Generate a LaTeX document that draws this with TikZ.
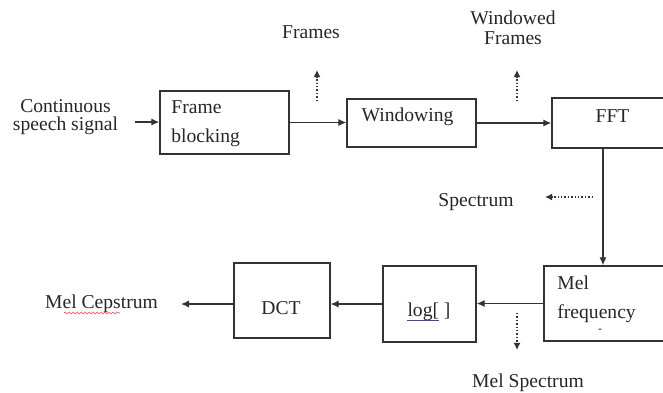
\documentclass[tikz,border=0pt]{standalone}
\usepackage{fontspec}
\setmainfont{Liberation Serif}
\usetikzlibrary{arrows.meta,decorations.pathmorphing}

\begin{document}
\begin{tikzpicture}[x=0.5pt,y=-0.5pt,
	font=\fontsize{9.8}{9}\selectfont, text=black!85,
	box/.style={draw=black!80, line width=0.7pt, inner sep=0pt},
	lbl/.style={inner sep=0pt, align=center},
	arr/.style={draw=black!80, -{Latex[length=4pt,width=3.6pt]}, line width=0.65pt},
	dots/.style={draw=black!80, -{Latex[length=3.6pt,width=3.6pt]}, densely dotted, line width=0.7pt}]
	\useasboundingbox (0,0) rectangle (663,392);

	% processing blocks
	\node[box, minimum width=64.5pt, minimum height=31.5pt] (fb) at (224.5,122.5) {};
	\node[box, minimum width=64.5pt, minimum height=24pt] (win) at (411.5,123) {};
	\node[box, minimum width=58pt, minimum height=25pt] (fft) at (610,123) {};
	\node[box, minimum width=62pt, minimum height=37.5pt] (mel) at (606,303.5) {};
	\node[box, minimum width=46.5pt, minimum height=38pt] (log) at (429.5,304) {};
	\node[box, minimum width=48pt, minimum height=37.5pt] (dct) at (282,300.5) {};

	% block texts
	\node[lbl, anchor=west, align=left, font=\fontsize{9.8}{14.5}\selectfont] (fbtxt) at (171,124) {Frame\\blocking};
	\node[lbl] (wintxt) at (407.5,117) {Windowing};
	\node[lbl] (ffttxt) at (612.5,116) {FFT};
	\node[lbl, anchor=west, align=left, font=\fontsize{9.8}{14.5}\selectfont] (meltxt) at (557,299) {Mel\\frequency};
	\node[lbl, font=\fontsize{6}{6}\selectfont] (meldot) at (600,331) {-};
	\node[lbl] (logtxt) at (429,312) {log[ ]};
	\node[lbl] (dcttxt) at (281,308) {DCT};

	% outer labels
	\node[lbl] (in) at (65.5,117) {Continuous\\speech signal};
	\node[lbl] (out) at (101.5,304) {Mel Cepstrum};
	\node[lbl] (frames) at (311,32) {Frames};
	\node[lbl, font=\fontsize{9.8}{10}\selectfont] (wframes) at (513,28) {Windowed\\Frames};
	\node[lbl] (spec) at (476,202) {Spectrum};
	\node[lbl] (melspec) at (528,383) {Mel Spectrum};

	% free ends
	\coordinate (instart) at (135,122);
	\coordinate (fftout) at (603,148);
	\coordinate (outend) at (181,304);
	\coordinate (fr0) at (317,101);
	\coordinate (fr1) at (317,70);
	\coordinate (wf0) at (517,101);
	\coordinate (wf1) at (517,70);
	\coordinate (sp0) at (593,197);
	\coordinate (sp1) at (545,197);
	\coordinate (ms0) at (517,313);
	\coordinate (ms1) at (517,350);

	% signal path
	\draw[arr] (instart) -- (fb.west |- instart);
	\draw[arr] (fb.east) -- (win.west |- fb.east);
	\draw[arr] (win.east) -- (fft.west);
	\draw[arr] (fftout) -- (fftout |- mel.north);
	\draw[arr] (mel.west) -- (log.east |- mel.west);
	\draw[arr] (log.west) -- (dct.east |- log.west);
	\draw[arr] (dct.west |- outend) -- (outend);

	% intermediate outputs
	\draw[dots] (fr0) -- (fr1);
	\draw[dots] (wf0) -- (wf1);
	\draw[dots] (sp0) -- (sp1);
	\draw[dots] (ms0) -- (ms1);

	% editor underlines
	\draw[red!75, line width=0.3pt, decorate, decoration={snake, amplitude=0.5pt, segment length=2pt}] (64,313) -- (120,313);
	\draw[blue!50!gray, line width=0.4pt] (407,320) -- (439,320);
\end{tikzpicture}
\end{document}
